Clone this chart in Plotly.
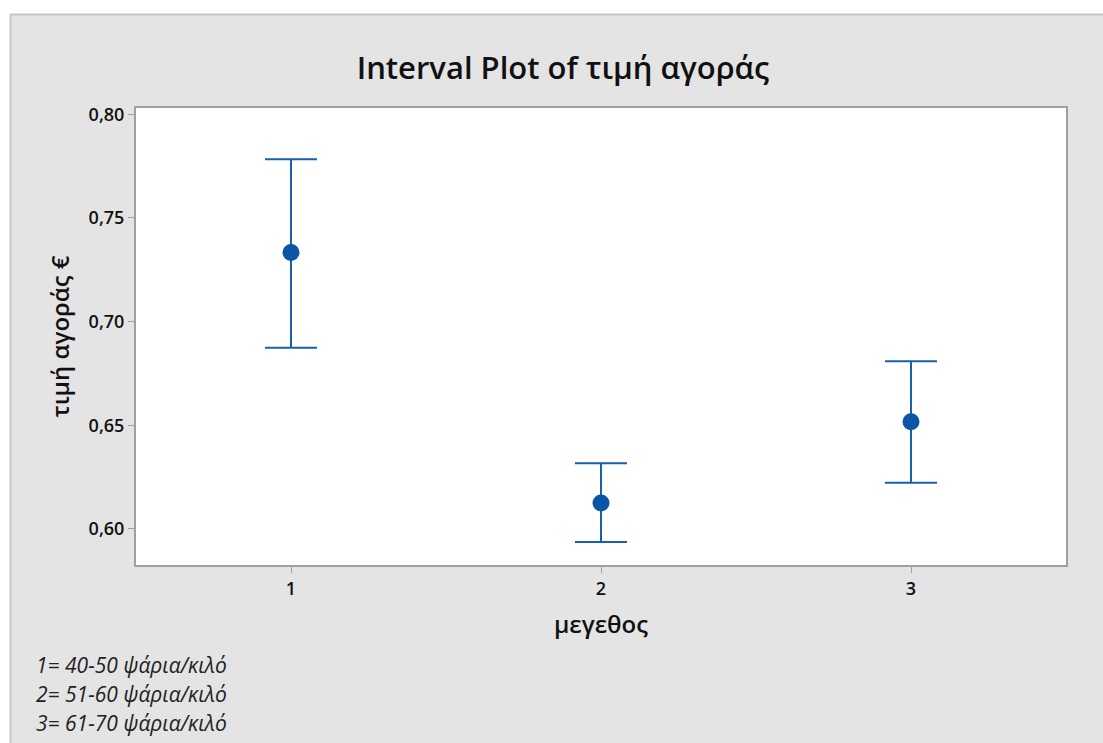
import plotly.graph_objects as go

categories = [1, 2, 3]
means = [0.7333, 0.6125, 0.6517]
upper = [0.7783, 0.6317, 0.6809]
lower = [0.6874, 0.5937, 0.6223]
y_ticks = [0.60, 0.65, 0.70, 0.75, 0.80]
x_ticks = [1, 2, 3]
title = "Interval Plot of τιμή αγοράς"
x_title = "μεγεθος"
y_title = "τιμή αγοράς €"
notes = ["1= 40-50 ψάρια/κιλό", "2= 51-60 ψάρια/κιλό", "3= 61-70 ψάρια/κιλό"]

W, H = 1103, 743
L, R, T, B = 136, 37, 108, 178
PW, PH = W - L - R, H - T - B

def px_x(px):
    return (px - L) / PW

def px_y(py):
    return (H - B - py) / PH

blue = "#0a55a5"
FONT = "Open Sans"

fig = go.Figure()
fig.add_trace(go.Scatter(
    x=categories, y=means, mode="markers",
    marker=dict(color=blue, size=17),
    error_y=dict(type="data", symmetric=False,
                 array=[u - m for u, m in zip(upper, means)],
                 arrayminus=[m - l for m, l in zip(means, lower)],
                 color="#1a5fae", thickness=2, width=26),
    showlegend=False, hoverinfo="skip",
))

annotations = [
    dict(text=x_title, xref="paper", yref="paper", x=0.5, y=px_y(623),
         xanchor="center", yanchor="middle", showarrow=False,
         font=dict(family=FONT, size=24, color="#111", weight=600)),
    dict(text=y_title, xref="paper", yref="paper", x=px_x(59), y=0.5,
         xanchor="center", yanchor="middle", textangle=-90, showarrow=False,
         font=dict(family=FONT, size=24, color="#111", weight=600)),
]
for i, n in enumerate(notes):
    annotations.append(dict(
        text=n, xref="paper", yref="paper", x=px_x(34), y=px_y(665 + 29 * i),
        xanchor="left", yanchor="middle", showarrow=False,
        font=dict(family=FONT, size=21, color="#222", style="italic")))

shapes = [
    dict(type="rect", xref="paper", yref="paper", x0=px_x(-5), x1=px_x(W + 5),
         y0=px_y(14), y1=px_y(-5), fillcolor="white", line=dict(width=0), layer="below"),
    dict(type="rect", xref="paper", yref="paper", x0=px_x(-5), x1=px_x(10),
         y0=px_y(H + 5), y1=px_y(-5), fillcolor="white", line=dict(width=0), layer="below"),
    dict(type="line", xref="paper", yref="paper", x0=px_x(10), x1=px_x(W + 5),
         y0=px_y(14.5), y1=px_y(14.5), line=dict(color="#c6c6c6", width=2), layer="below"),
    dict(type="line", xref="paper", yref="paper", x0=px_x(10.5), x1=px_x(10.5),
         y0=px_y(14), y1=px_y(H + 5), line=dict(color="#c6c6c6", width=2), layer="below"),
]

fig.update_layout(
    width=W, height=H,
    margin=dict(l=L, r=R, t=T, b=B),
    paper_bgcolor="#e4e4e4", plot_bgcolor="white",
    separators=",.",
    title=dict(text=title, x=563 / W, xanchor="center", y=1 - 68 / H, yanchor="middle",
               font=dict(family=FONT, size=31, color="#111", weight=600)),
    xaxis=dict(range=[0.5, 3.5], tickvals=x_ticks, ticktext=[str(v) for v in x_ticks],
               showgrid=False, zeroline=False, showline=True, mirror=True,
               linecolor="#a0a0a0", linewidth=2, ticks="outside", ticklen=6,
               tickcolor="#a0a0a0", tickwidth=1,
               tickfont=dict(family=FONT, size=18, color="#111", weight=600)),
    yaxis=dict(range=[0.5826, 0.803], tickvals=y_ticks, tickformat=".2f",
               showgrid=False, zeroline=False, showline=True, mirror=True,
               linecolor="#a0a0a0", linewidth=2, ticks="outside", ticklen=6,
               tickcolor="#a0a0a0", tickwidth=1,
               tickfont=dict(family=FONT, size=18, color="#111", weight=600)),
    annotations=annotations,
    shapes=shapes,
)

fig.write_html("out.html", config={"displayModeBar": False},
               post_script="document.body.style.margin='0';")
